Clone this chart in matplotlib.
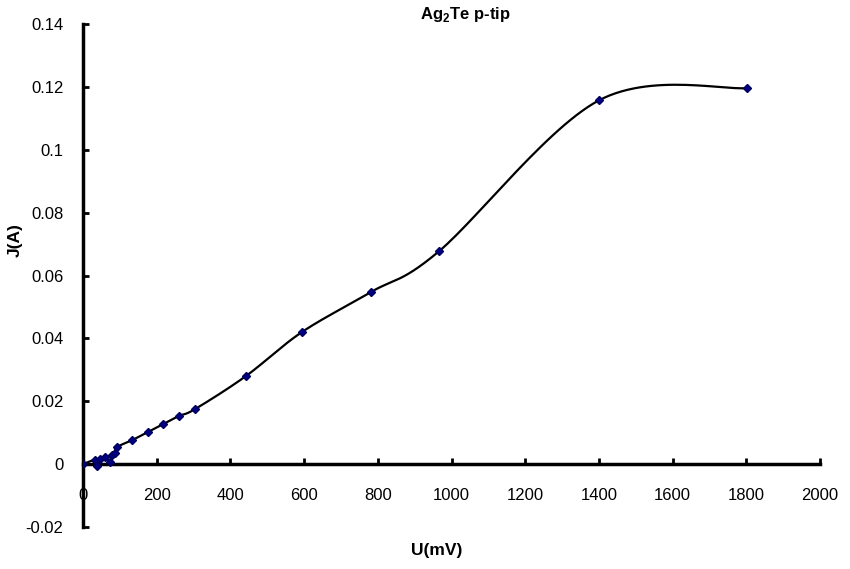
import matplotlib
matplotlib.use("Agg")
import matplotlib.pyplot as plt
import numpy as np

plt.rcParams['font.family'] = ['Liberation Sans', 'DejaVu Sans']
plt.rcParams['mathtext.fontset'] = 'custom'
plt.rcParams['mathtext.rm'] = 'Liberation Sans'
plt.rcParams['mathtext.bf'] = 'Liberation Sans:bold'

# data
u_mv = [0, 33, 38, 46, 60, 73, 79, 87, 92, 133, 176, 217, 260, 304,
        442, 594, 781, 966, 1400, 1802]
j_a = [0.0, 0.0013, -0.0005, 0.0016, 0.0022, 0.0008, 0.0029, 0.0035, 0.0054,
       0.0076, 0.0102, 0.0127, 0.0153, 0.0175,
       0.028, 0.042, 0.0547, 0.0677, 0.1157, 0.1196]
x_ticks = [0, 200, 400, 600, 800, 1000, 1200, 1400, 1600, 1800, 2000]
y_ticks = [-0.02, 0, 0.02, 0.04, 0.06, 0.08, 0.1, 0.12, 0.14]
y_labels = ['-0.02', '0', '0.02', '0.04', '0.06', '0.08', '0.1', '0.12', '0.14']


def smooth(xs, ys, sx, sy, n=30):
    # catmull-rom style smoothing, done in scaled (screen-like) units
    px = np.asarray(xs, float) / sx
    py = np.asarray(ys, float) / sy
    pts = np.column_stack([px, py])
    pts = np.vstack([pts[0], pts, pts[-1]])
    out = []
    for i in range(1, len(pts) - 2):
        p0, p1, p2, p3 = pts[i - 1], pts[i], pts[i + 1], pts[i + 2]
        c1 = p1 + (p2 - p0) / 6.0
        c2 = p2 - (p3 - p1) / 6.0
        t = np.linspace(0, 1, n)[:, None]
        seg = ((1 - t) ** 3 * p1 + 3 * (1 - t) ** 2 * t * c1
               + 3 * (1 - t) * t ** 2 * c2 + t ** 3 * p2)
        out.append(seg)
    out = np.vstack(out)
    return out[:, 0] * sx, out[:, 1] * sy


fig = plt.figure(figsize=(8.5, 5.69), dpi=100)
ax = fig.add_axes([83 / 850, 1 - 527 / 569, 737 / 850, 503 / 569])

cx, cy = smooth(u_mv, j_a, 2000 / 737.0, 0.16 / 503.0)
ax.plot(cx, cy, color='black', lw=1.6, zorder=2)
ax.plot(u_mv, j_a, linestyle='none', marker='D', markersize=4.5,
        color='#000080', markeredgecolor='#000060', zorder=3)

ax.set_xlim(0, 2000)
ax.set_ylim(-0.02, 0.14)
ax.spines['top'].set_visible(False)
ax.spines['right'].set_visible(False)
ax.spines['bottom'].set_position(('data', 0))
ax.spines['bottom'].set_linewidth(2.5)
ax.spines['left'].set_linewidth(2.5)

ax.set_xticks(x_ticks)
ax.set_xticklabels([str(t) for t in x_ticks])
ax.set_yticks(y_ticks)
ax.set_yticklabels(y_labels)
ax.tick_params(axis='x', direction='in', length=4, width=2, pad=17, labelsize=12)
ax.tick_params(axis='y', direction='in', length=4, width=2, pad=14, labelsize=12)

fig.text(465 / 850, 1 - 15 / 569, r'Ag$_\mathbf{2}$Te p-tip', ha='center',
         va='center', fontsize=12, fontweight='bold')
fig.text(15 / 850, 1 - 240 / 569, 'J(A)', rotation=90, ha='center',
         va='center', fontsize=12.5, fontweight='bold')
fig.text(437 / 850, 1 - 550 / 569, 'U(mV)', ha='center', va='center',
         fontsize=12.5, fontweight='bold')

fig.savefig('out.png', dpi=100)
